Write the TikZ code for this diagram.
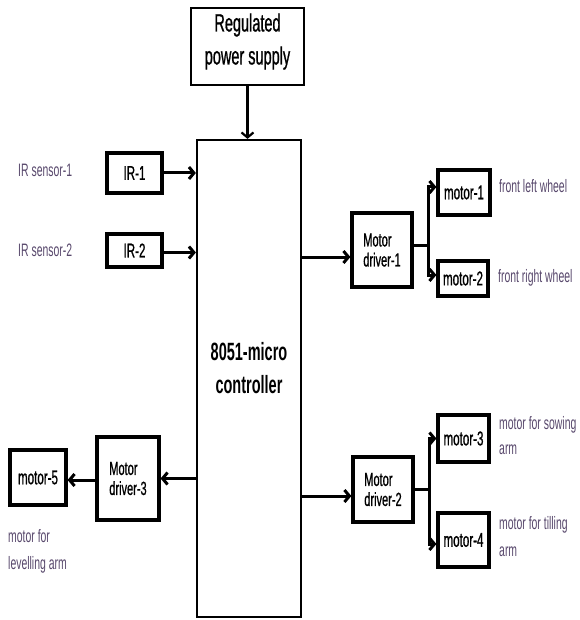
\documentclass[tikz,border=0pt]{standalone}
\usepackage{fontspec}
\setmainfont{Liberation Sans}[FakeStretch=0.58]
\newfontfamily\boxfont{Liberation Sans}[FakeStretch=0.58, FakeBold=0.8]
\usetikzlibrary{arrows.meta,calc}
\definecolor{labcol}{RGB}{88,72,108}
\begin{document}
\begin{tikzpicture}[x=1pt,y=-1pt,
  box/.style={draw, line width=3.2pt, inner sep=0pt, align=center, font=\boxfont\fontsize{20}{21}\selectfont},
  dbox/.style={box, align=left, font=\boxfont\fontsize{19}{20}\selectfont},
  conn/.style={line width=3pt},
  arr/.style={conn, -{Straight Barb[length=5pt,width=12pt]}},
  lab/.style={text=labcol, font=\fontsize{18}{25}\selectfont, align=left, anchor=west, inner sep=0pt}]
\useasboundingbox (0,0) rectangle (579,620);

% power supply and controller
\node[box, line width=2.6pt, minimum width=113pt, minimum height=77pt] (psu) at (247.5,46.5) {};
\node[font=\boxfont\fontsize{25}{33}\selectfont, align=center, inner sep=0pt] (psut) at (247.5,41.5) {Regulated\\power supply};
\node[box, line width=2.2pt, minimum width=104pt, minimum height=477pt] (mcu) at (249,378.5) {};
\node[font=\bfseries\fontsize{25}{33}\selectfont, align=center, inner sep=0pt] (mcut) at (249,368.5) {8051-micro\\controller};

% sensors
\node[box, minimum width=55pt, minimum height=40pt] (ir1) at (134.5,173) {IR-1};
\node[box, minimum width=55pt, minimum height=33pt] (ir2) at (134.5,250.5) {IR-2};

% drivers
\node[dbox, minimum width=60pt, minimum height=74pt] (drv1) at (382,250) {Motor\\driver-1};
\node[dbox, minimum width=60pt, minimum height=65pt] (drv2) at (383,489.5) {Motor\\driver-2};
\node[dbox, minimum width=62pt, minimum height=83pt] (drv3) at (128,478.5) {Motor\\driver-3};

% motors
\node[box, minimum width=52pt, minimum height=45pt] (m1) at (464,192.5) {motor-1};
\node[box, minimum width=50pt, minimum height=35pt] (m2) at (463,278.5) {motor-2};
\node[box, minimum width=51pt, minimum height=47pt] (m3) at (463.5,438.5) {motor-3};
\node[box, minimum width=51pt, minimum height=54pt] (m4) at (463.5,540) {motor-4};
\node[box, minimum width=56pt, minimum height=55pt] (m5) at (38,477.5) {motor-5};

% labels
\node[lab] (l1) at (18,170) {IR sensor-1};
\node[lab] (l2) at (18,250) {IR sensor-2};
\node[lab] (l3) at (499,186) {front left wheel};
\node[lab] (l4) at (498,278) {front right wheel};
\node[lab] (l5) at (499,435.5) {motor for sowing\\arm};
\node[lab, font=\fontsize{18}{27}\selectfont] (l6) at (499,536.5) {motor for tilling\\arm};
\node[lab, font=\fontsize{18}{27}\selectfont] (l7) at (8,551.5) {motor for\\levelling arm};

% connectors
\draw[arr, line width=2.2pt] (psu.south) -- (psu.south |- mcu.north);
\draw[arr] (ir1.east) -- (ir1.east -| mcu.west);
\draw[arr] ([yshift=-2pt]ir2.east) -- ([yshift=-2pt]ir2.east -| mcu.west);

\draw[arr] ([yshift=-7pt]drv1.west -| mcu.east) -- ([yshift=-7pt]drv1.west);
\coordinate (j1) at ($(drv1.east)+(15,-5)$);
\draw[conn] ([yshift=5pt]drv1.east) -- (j1);
\draw[arr] (j1) |- ([yshift=5.5pt]m1.west);
\draw[arr] (j1) |- ([yshift=3.5pt]m2.west);

\draw[arr] ([yshift=-6.5pt]drv2.west -| mcu.east) -- ([yshift=-6.5pt]drv2.west);
\coordinate (j2) at ($(drv2.east)+(15,0)$);
\draw[conn] (drv2.east) -- (j2);
\draw[arr] (j2) |- (m3.west);
\draw[arr] (j2) |- ([yshift=-4pt]m4.west);

\draw[arr] (drv3.east -| mcu.west) -- (drv3.east);
\draw[arr] ([yshift=-1.5pt]drv3.west) -- ([yshift=-1.5pt]drv3.west -| m5.east);
\end{tikzpicture}
\end{document}
